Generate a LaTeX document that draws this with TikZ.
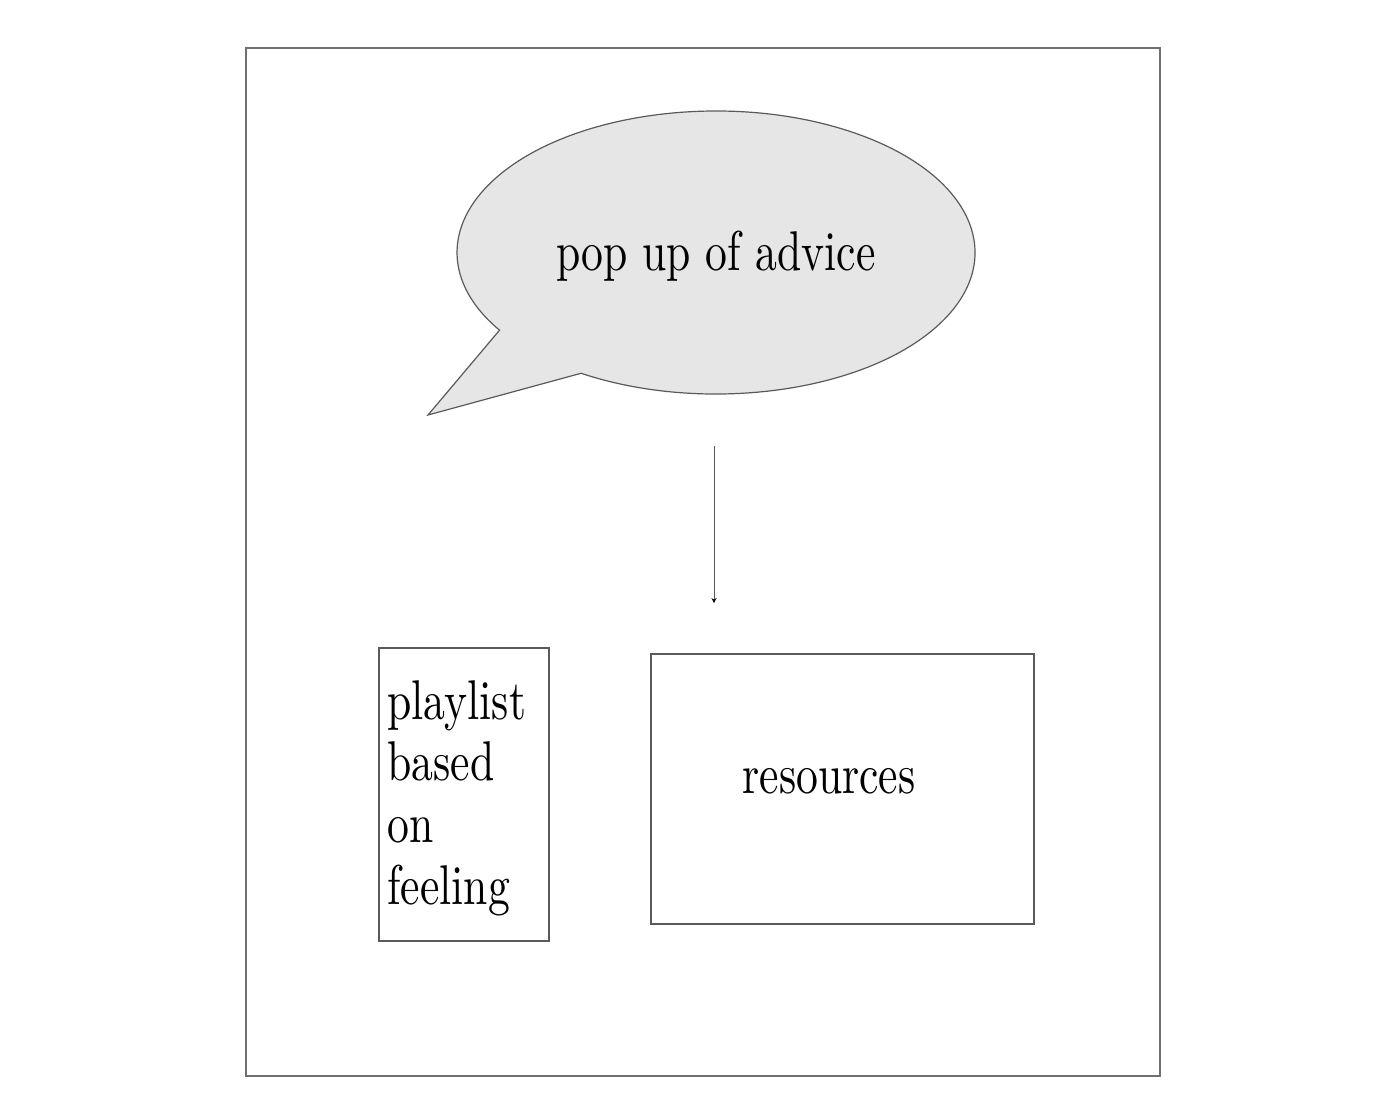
\documentclass[tikz,border=0pt]{standalone}
\usepackage{fontspec}
\usepackage{tikz}
\usetikzlibrary{positioning}
\usetikzlibrary{arrows.meta}
\newfontfamily\adviceserif{lmroman10-regular.otf}[FakeStretch=0.78]
\definecolor{framegray}{HTML}{707070}
\definecolor{linegray}{HTML}{5A5A5A}
\definecolor{bubblegray}{HTML}{E6E6E6}
\tikzset{
	label text/.style={font=\adviceserif\fontsize{28}{30.8}\selectfont, inner sep=0pt},
	plain box/.style={draw=linegray, line width=0.6pt, inner sep=0pt},
}

\begin{document}
\begin{tikzpicture}[x=0.5pt,y=-0.5pt]
				\useasboundingbox (0,0) rectangle (1384,1108);
				%Nodes
				\coordinate      (f0) 	at 	(246,48);
				\coordinate      (f1) 	at 	(1160,1076);
				\coordinate      (c0) 	at 	(716,252.5);
				\coordinate      (t0) 	at 	(428,415);
				\coordinate      (a0) 	at 	(714,446);
				\coordinate      (a1) 	at 	(714,603);
				\node[plain box, minimum width=85pt, minimum height=146.5pt] 		 (playlist) at (464,794.5) {};
				\node[plain box, minimum width=191.5pt, minimum height=135pt] 		 (resources) at (842.5,789) {};

				%Lines
				\draw[framegray,line width=0.75pt] (f0) rectangle (f1);
				\draw[fill=bubblegray,draw=linegray,line width=0.6pt] (c0) ++(121.4:259 and 141.5)
					arc[start angle=121.4,end angle=-213.3,x radius=259,y radius=141.5] -- (t0) -- cycle;
				\draw[linegray,line width=0.5pt,-{Stealth[length=2.5pt,width=2.6pt,color=black]}] (a0) -- (a1);

				%Texts
				\node[label text, anchor=base] 		 (advice) at (716,270) {pop up of advice};
				\node[label text, anchor=base] 		 (restext) at (829,793) {resources};
				\node[label text, anchor=north west, align=left] 		 (playtext) at (387,680) {playlist\\based\\on\\feeling};
\end{tikzpicture}
\end{document}
